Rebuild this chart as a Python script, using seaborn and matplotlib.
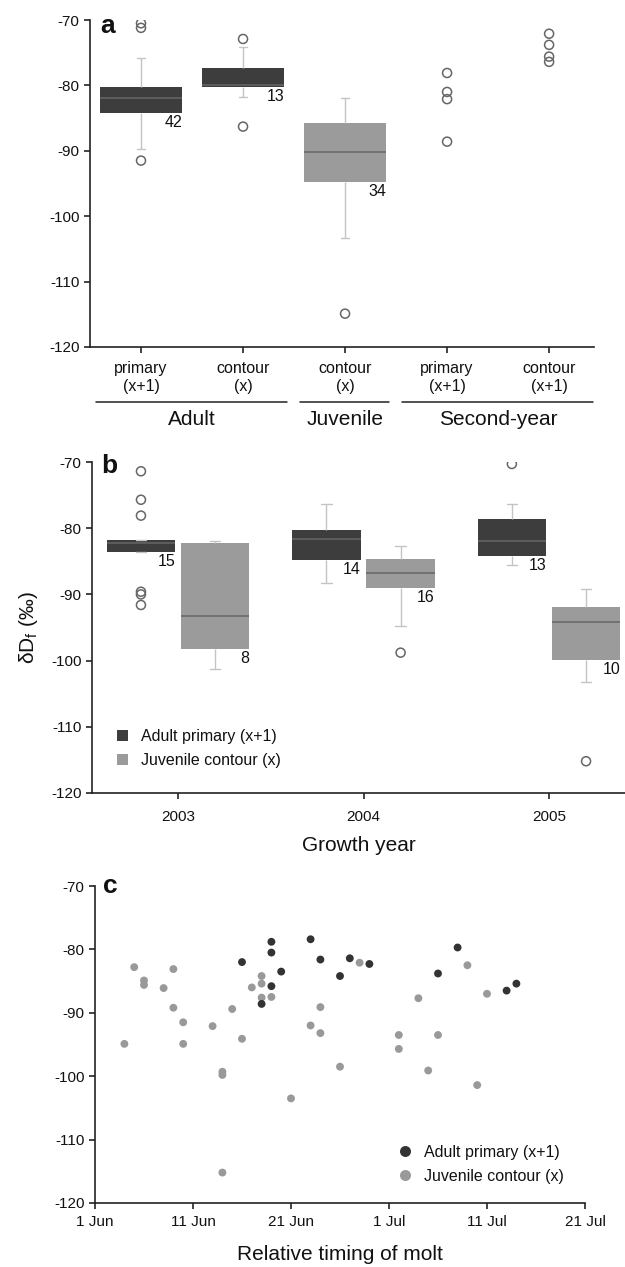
import numpy as np
import pandas as pd
import matplotlib
matplotlib.use('Agg')
import matplotlib.pyplot as plt
import matplotlib.dates as mdates
import matplotlib.transforms as mtransforms
from matplotlib.patches import Patch
import seaborn as sns

# ---------------- data ----------------
# panel a: feather type by age class (box stats)
a_keys = ['Adult primary', 'Adult contour', 'Juvenile contour',
          'Second-year primary', 'Second-year contour']
a_ticklabels = ['primary\n(x+1)', 'contour\n(x)', 'contour\n(x)',
                'primary\n(x+1)', 'contour\n(x+1)']
a_groups = ['Adult', 'Juvenile', 'Second-year']
a_group_span = [(0, 1), (2, 2), (3, 4)]

a_box_keys = ['Adult primary', 'Adult contour', 'Juvenile contour']
a_whislo = [-89.8, -81.8, -103.3]
a_q1 = [-84.2, -80.2, -94.7]
a_med = [-81.9, -80.0, -90.2]
a_q3 = [-80.2, -77.3, -85.7]
a_whishi = [-75.8, -74.1, -81.9]
a_n = [42, 13, 34]

a_out_keys = (['Adult primary'] * 3 + ['Adult contour'] * 2 + ['Juvenile contour']
              + ['Second-year primary'] * 4 + ['Second-year contour'] * 4)
a_out_vals = [-70.5, -71.2, -91.5, -72.9, -86.3, -114.9,
              -78.1, -81.0, -82.1, -88.6, -72.1, -73.8, -75.6, -76.4]

# panel b: growth year
b_years = ['2003', '2004', '2005']
b_feathers = ['Adult primary (x+1)', 'Juvenile contour (x)']
b_box_year = ['2003', '2003', '2004', '2004', '2005', '2005']
b_box_feather = b_feathers * 3
b_whislo = [-83.6, -101.2, -88.3, -94.7, -85.5, -103.3]
b_q1 = [-83.6, -98.2, -84.8, -89.0, -84.2, -99.9]
b_med = [-82.3, -93.2, -81.7, -86.7, -81.9, -94.1]
b_q3 = [-81.8, -82.3, -80.3, -84.6, -78.6, -91.9]
b_whishi = [-81.8, -81.9, -76.3, -82.7, -76.3, -89.2]
b_n = [15, 8, 14, 16, 13, 10]

b_out_year = ['2003'] * 6 + ['2004'] + ['2005', '2005']
b_out_feather = [b_feathers[0]] * 6 + [b_feathers[1]] + b_feathers
b_out_vals = [-71.4, -75.7, -78.1, -89.6, -90.0, -91.6, -98.8, -70.3, -115.2]

# panel c: relative timing of molt (days after 1 Jun)
c_adult_days = [15, 17, 18, 18, 18, 19, 22, 23, 25, 26, 28, 35, 37, 42, 43]
c_adult_vals = [-82.0, -88.6, -78.8, -80.5, -85.8, -83.5, -78.4, -81.6,
                -84.2, -81.4, -82.3, -83.8, -79.7, -86.5, -85.4]
c_juv_days = [3, 4, 5, 5, 7, 8, 8, 9, 9, 12, 13, 13, 13, 14, 15, 16, 17,
              17, 17, 18, 20, 22, 23, 23, 25, 27, 31, 31, 33, 34, 35, 38, 39, 40]
c_juv_vals = [-94.9, -82.8, -84.9, -85.6, -86.1, -83.1, -89.2, -91.5, -94.9,
              -92.1, -99.3, -99.8, -115.2, -89.4, -94.1, -86.0, -84.2, -85.4,
              -87.6, -87.5, -103.5, -92.0, -89.1, -93.2, -98.5, -82.1, -93.5,
              -95.7, -87.7, -99.1, -93.5, -82.5, -101.4, -87.0]

# ---------------- style ----------------
DARK = '#3d3d3d'
GRAY = '#9b9b9b'
WHISK = '#c4c4c4'
MED = '#666666'
OUT = '#666666'
INK = '#111111'

sns.set_style('ticks')
plt.rcParams['font.family'] = ['Liberation Sans', 'DejaVu Sans']
plt.rcParams['axes.unicode_minus'] = False
plt.rcParams['axes.linewidth'] = 1.2
plt.rcParams['axes.edgecolor'] = '#222222'
plt.rcParams['text.color'] = INK
plt.rcParams['axes.labelcolor'] = INK
plt.rcParams['xtick.color'] = INK
plt.rcParams['ytick.color'] = INK
plt.rcParams['xtick.major.width'] = 1.1
plt.rcParams['ytick.major.width'] = 1.1
plt.rcParams['xtick.major.size'] = 4
plt.rcParams['ytick.major.size'] = 4
plt.rcParams['xtick.major.pad'] = 5
plt.rcParams['xtick.labelsize'] = 11
plt.rcParams['ytick.labelsize'] = 11

W, H = 625, 1267
fig = plt.figure(figsize=(W / 100, H / 100), dpi=100)


def px_axes(left, top, right, bottom):
    return fig.add_axes([left / W, 1 - bottom / H, (right - left) / W, (bottom - top) / H])


ax_a = px_axes(90, 20, 594, 347)
ax_b = px_axes(92, 462, 625, 793)
ax_c = px_axes(95, 886, 585, 1203)

yticks = list(range(-120, -69, 10))
for ax in (ax_a, ax_b, ax_c):
    ax.set_ylim(-120, -70)
    ax.set_yticks(yticks)
    sns.despine(ax=ax)

# ---------------- panel a ----------------
a_df = pd.DataFrame({
    'type': np.repeat(a_box_keys, 5),
    'dD': np.column_stack([a_whislo, a_q1, a_med, a_q3, a_whishi]).ravel(),
})
a_pal = {'Adult primary': DARK, 'Adult contour': DARK, 'Juvenile contour': GRAY}
sns.boxplot(data=a_df, x='type', y='dD', order=a_keys, hue='type', palette=a_pal,
            width=0.81, whis=(0, 100), showfliers=False, legend=False,
            boxprops=dict(linewidth=0), medianprops=dict(color=MED, linewidth=1.1),
            whiskerprops=dict(color=WHISK, linewidth=1.0),
            capprops=dict(color=WHISK, linewidth=1.0), capwidths=0.08, ax=ax_a)
a_out = pd.DataFrame({'type': a_out_keys, 'dD': a_out_vals})
sns.stripplot(data=a_out, x='type', y='dD', order=a_keys, jitter=False, color=OUT,
              facecolor='none', edgecolor=OUT, linewidth=1.1, size=6.5, ax=ax_a)

for key, q1, n in zip(a_box_keys, a_q1, a_n):
    i = a_keys.index(key)
    ax_a.annotate(str(n), xy=(i + 0.405, q1), xytext=(0, -1.5), textcoords='offset points',
                  ha='right', va='top', fontsize=11.5)

ax_a.set_xlim(-0.5, 4.44)
ax_a.set_xticks(range(len(a_keys)))
ax_a.set_xticklabels(a_ticklabels, fontsize=11.5, linespacing=1.3)
ax_a.tick_params(axis='x', pad=6)
ax_a.set_xlabel('')
ax_a.set_ylabel('')
trans = mtransforms.blended_transform_factory(ax_a.transData, ax_a.transAxes)
for name, (i0, i1) in zip(a_groups, a_group_span):
    ax_a.plot([i0 - 0.44, i1 + 0.43], [-0.168, -0.168], transform=trans,
              clip_on=False, color='#222222', lw=1.1)
    ax_a.text((i0 + i1) / 2, -0.222, name, transform=trans, ha='center', va='center',
              fontsize=15)
ax_a.text(0.02, 0.960, 'a', transform=ax_a.transAxes, fontsize=19, fontweight='bold',
          va='baseline', ha='left')

# ---------------- panel b ----------------
b_df = pd.DataFrame({
    'year': np.repeat(b_box_year, 5),
    'feather': np.repeat(b_box_feather, 5),
    'dD': np.column_stack([b_whislo, b_q1, b_med, b_q3, b_whishi]).ravel(),
})
b_pal = {b_feathers[0]: DARK, b_feathers[1]: GRAY}
sns.boxplot(data=b_df, x='year', y='dD', hue='feather', order=b_years, hue_order=b_feathers,
            palette=b_pal, width=0.8, gap=0.075, whis=(0, 100), showfliers=False,
            legend=False, boxprops=dict(linewidth=0),
            medianprops=dict(color=MED, linewidth=1.1),
            whiskerprops=dict(color=WHISK, linewidth=1.0),
            capprops=dict(color=WHISK, linewidth=1.0), capwidths=0.055, ax=ax_b)
n_before = len(ax_b.collections)
b_out = pd.DataFrame({'year': b_out_year, 'feather': b_out_feather, 'dD': b_out_vals})
sns.stripplot(data=b_out, x='year', y='dD', hue='feather', order=b_years,
              hue_order=b_feathers, palette=b_pal, dodge=True, jitter=False,
              edgecolor=OUT, linewidth=1.1, size=6.5, legend=False, ax=ax_b)
for coll in ax_b.collections[n_before:]:
    coll.set_facecolor('none')

offs = [-0.2, 0.2]
for yr, fe, q1, n in zip(b_box_year, b_box_feather, b_q1, b_n):
    x = b_years.index(yr) + offs[b_feathers.index(fe)] + 0.185
    ax_b.annotate(str(n), xy=(x, q1), xytext=(0, -1.5), textcoords='offset points',
                  ha='right', va='top', fontsize=11.5, annotation_clip=False)

ax_b.set_xlim(-0.464, 2.41)
ax_b.tick_params(axis='x', pad=8)
ax_b.set_xlabel('Growth year', fontsize=15, labelpad=9)
ax_b.set_ylabel('δD$_\\mathregular{f}$ (‰)', fontsize=15, labelpad=8)
ax_b.legend([Patch(facecolor=DARK, edgecolor='none'), Patch(facecolor=GRAY, edgecolor='none')],
            b_feathers, loc='center left', bbox_to_anchor=(0.02, 0.135), frameon=False,
            fontsize=11.5, handlelength=0.7, handleheight=0.7, handletextpad=0.8,
            labelspacing=0.55)
ax_b.text(0.017, 0.967, 'b', transform=ax_b.transAxes, fontsize=19, fontweight='bold',
          va='baseline', ha='left')

# ---------------- panel c ----------------
start = pd.Timestamp('2005-06-01')
c_df = pd.DataFrame({
    'date': start + pd.to_timedelta(c_juv_days + c_adult_days, unit='D'),
    'dD': c_juv_vals + c_adult_vals,
    'feather': [b_feathers[1]] * len(c_juv_days) + [b_feathers[0]] * len(c_adult_days),
})
c_pal = {b_feathers[0]: '#333333', b_feathers[1]: '#999999'}
sns.scatterplot(data=c_df, x='date', y='dD', hue='feather', hue_order=b_feathers,
                palette=c_pal, s=32, edgecolor='none', linewidth=0, ax=ax_c)
sns.move_legend(ax_c, 'center left', bbox_to_anchor=(0.57, 0.122), frameon=False, title=None,
                fontsize=11.5, handletextpad=0.2, labelspacing=0.55, markerscale=1.4)
ax_c.set_xlim(start, pd.Timestamp('2005-07-21'))
ax_c.xaxis.set_major_locator(mdates.DayLocator(bymonthday=[1, 11, 21]))
ax_c.xaxis.set_major_formatter(mdates.DateFormatter('%-d %b'))
ax_c.set_xlabel('Relative timing of molt', fontsize=15, labelpad=11)
ax_c.set_ylabel('')
ax_c.text(0.016, 0.978, 'c', transform=ax_c.transAxes, fontsize=19, fontweight='bold',
          va='baseline', ha='left')

fig.savefig('out.png', dpi=100)
